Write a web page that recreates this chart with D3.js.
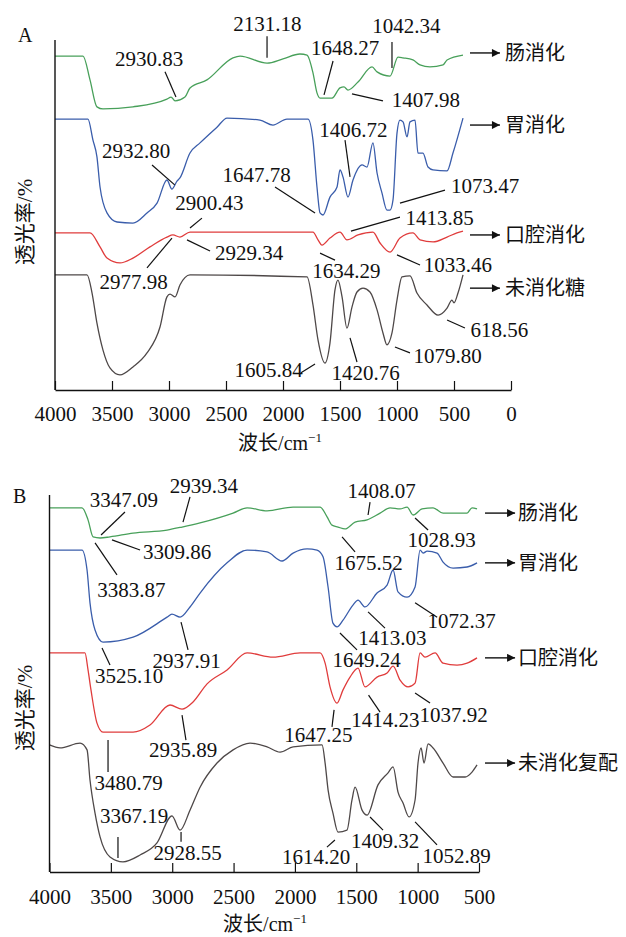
<!DOCTYPE html>
<meta charset="utf-8">
<script src="https://d3js.org/d3.v7.js"></script>
<style>
  body { margin: 0; background: #fff; }
</style>
<svg id="chart" width="626" height="937"></svg>
<script>

// ---- data: [wavenumber cm-1, transmittance (arbitrary, stacked)] ----
const gutA = [[4000,95.4],[3754,95.4],[3693,88.6],[3632,80.9],[3579,80.3],[3316,80.9],[3018,83.1],[2982,83.7],[2947,82.6],[2860,83.7],[2816,86.3],[2667,88.6],[2439,94.9],[2377,95.4],[2140,93.4],[2000,94.6],[1851,96.0],[1789,95.7],[1737,90.6],[1702,84.9],[1675,83.4],[1570,83.4],[1500,86.3],[1465,86.6],[1430,85.7],[1342,88.0],[1219,92.3],[1175,90.9],[1061,89.7],[991,95.1],[947,94.9],[860,94.3],[798,92.9],[711,92.3],[596,92.9],[561,94.3],[421,95.7]];
const stomachA = [[4000,77.4],[3711,77.4],[3667,71.4],[3632,66.6],[3605,58.0],[3544,50.6],[3456,48.0],[3316,47.7],[3193,50.6],[3105,53.4],[3018,60.0],[2975,57.4],[2930,59.7],[2904,60.6],[2816,67.7],[2728,70.6],[2579,75.1],[2491,77.7],[2202,77.1],[2088,75.7],[1965,77.4],[1781,77.4],[1737,71.4],[1702,58.0],[1675,50.6],[1649,50.0],[1588,55.1],[1526,58.0],[1500,62.9],[1474,60.9],[1430,55.1],[1386,60.0],[1307,64.3],[1263,63.7],[1211,70.6],[1175,62.0],[1132,56.3],[1088,51.4],[1061,51.4],[1035,54.3],[1000,73.4],[974,77.1],[947,76.6],[912,72.3],[886,76.6],[842,77.1],[816,67.7],[772,67.7],[728,63.7],[684,62.9],[561,62.6],[509,67.7],[421,77.7]];
const oralA = [[4000,44.9],[3693,44.9],[3605,40.9],[3544,37.7],[3430,36.3],[3316,37.7],[3167,40.9],[3018,43.7],[2965,44.3],[2904,43.7],[2816,45.1],[1737,45.1],[1693,42.9],[1658,41.4],[1588,43.4],[1500,45.1],[1439,42.9],[1342,44.3],[1211,45.1],[1149,42.0],[1061,39.4],[974,43.4],[860,44.9],[798,42.9],[684,42.3],[561,43.7],[474,44.9],[421,45.4]];
const rawA = [[4000,32.9],[3719,32.9],[3675,27.7],[3632,19.1],[3579,11.4],[3518,6.3],[3430,4.3],[3316,6.6],[3193,10.6],[3079,18.0],[3018,26.6],[2991,27.4],[2947,26.6],[2904,30.0],[2816,32.9],[1789,32.3],[1737,24.3],[1693,14.3],[1632,7.7],[1588,13.4],[1544,28.6],[1518,31.4],[1482,26.6],[1439,17.7],[1395,23.7],[1351,28.0],[1298,29.1],[1237,28.0],[1175,22.9],[1123,16.3],[1088,12.9],[1044,16.3],[1000,25.7],[956,32.3],[886,32.6],[825,27.7],[737,24.3],[640,21.4],[561,23.4],[518,25.7],[500,24.9],[465,27.7],[421,32.9]];

const gutB = [[4000,96.6],[3735,96.6],[3686,93.4],[3645,88.9],[3588,88.6],[3507,88.9],[3319,89.9],[3042,90.7],[2920,91.5],[2773,92.6],[2504,95.2],[2390,96.6],[2227,95.8],[2015,96.8],[1795,96.8],[1738,94.2],[1698,92.0],[1649,91.5],[1592,91.0],[1510,92.8],[1412,93.4],[1306,95.2],[1225,96.6],[1143,96.3],[1086,96.8],[1037,94.7],[964,96.3],[874,96.6],[793,95.2],[597,95.2],[557,96.6],[516,96.3]];
const stomachB = [[4000,85.4],[3735,85.4],[3694,80.1],[3670,71.4],[3629,64.2],[3564,61.0],[3319,62.3],[3042,67.6],[3002,68.4],[2936,67.6],[2855,70.3],[2773,74.0],[2553,82.0],[2390,85.4],[2227,84.9],[2105,82.5],[2015,84.6],[1901,85.7],[1820,85.4],[1771,83.6],[1730,75.6],[1690,66.0],[1657,65.0],[1608,66.8],[1527,70.8],[1486,72.1],[1429,70.3],[1331,74.0],[1249,76.1],[1200,80.1],[1160,74.3],[1086,72.9],[1021,75.6],[980,85.4],[955,84.6],[923,85.1],[842,84.6],[793,82.2],[711,80.6],[597,80.9],[516,82.0]];
const oralB = [[4000,58.1],[3711,58.1],[3686,53.6],[3662,48.3],[3613,39.5],[3564,37.1],[3319,37.1],[3181,39.0],[3018,44.3],[2920,43.2],[2830,45.1],[2716,49.9],[2553,53.6],[2390,58.1],[2178,57.0],[1958,58.1],[1795,58.1],[1754,55.4],[1714,49.1],[1657,44.8],[1608,48.3],[1551,51.7],[1486,54.1],[1429,49.1],[1331,51.7],[1249,52.8],[1200,54.6],[1143,50.9],[1078,49.1],[1021,50.1],[980,58.1],[940,57.0],[858,58.1],[793,55.4],[679,54.9],[597,55.4],[516,56.8]];
const rawB = [[4000,33.7],[3914,32.9],[3751,34.2],[3694,32.4],[3670,24.4],[3629,15.6],[3588,9.3],[3507,4.0],[3401,2.7],[3262,4.5],[3124,7.7],[3002,14.9],[2936,11.1],[2855,16.4],[2773,22.5],[2635,28.9],[2504,32.4],[2366,34.2],[2227,33.2],[2121,31.8],[2015,33.2],[1779,33.7],[1754,28.9],[1730,21.8],[1690,15.6],[1649,10.6],[1576,11.1],[1535,19.1],[1510,22.5],[1453,16.4],[1412,15.1],[1323,23.1],[1241,26.3],[1200,27.9],[1160,21.2],[1119,18.3],[1070,14.6],[1021,19.1],[997,28.9],[972,32.9],[948,28.9],[915,34.0],[874,32.9],[793,28.9],[711,25.2],[613,25.2],[557,26.5],[516,28.4]];

const namesA = ["肠消化", "胃消化", "口腔消化", "未消化糖"];
const namesB = ["肠消化", "胃消化", "口腔消化", "未消化复配"];
const labelTA = [96.3, 75.7, 44.3, 29.1];
const labelTB = [95.2, 82.0, 56.8, 28.9];

const ticksA = d3.range(0, 4001, 500);
const ticksB = d3.range(500, 4001, 500);

// peak labels: [text, text wn, text T, line wn1, T1, wn2, T2]
const annA = [
  ["2131.18",2136,102.6,2140,101.1,2140,94.9],
  ["2930.83",3175,92.6,3035,90.9,2939,83.7],
  ["1648.27",1456,95.7,1561,94.0,1640,84.3],
  ["1042.34",917,102.0,1044,99.4,1044,92.0],
  ["1407.98",746,80.9,1395,84.6,1123,82.6],
  ["2932.80",3289,66.3,3149,64.3,2950,58.6],
  ["1647.78",2232,59.4,2070,58.0,1719,50.6],
  ["1406.72",1382,72.3,1456,71.4,1412,60.9],
  ["1073.47",228,56.3,974,53.4,579,57.1],
  ["1413.85",627,47.1,1404,45.4,974,49.4],
  ["2900.43",2645,51.4,2816,46.3,2711,49.1],
  ["2929.34",2298,37.1,2842,42.9,2640,39.7],
  ["2977.98",3311,28.9,3193,34.9,2974,43.4],
  ["1634.29",1443,32.0,1675,39.1,1544,37.1],
  ["1033.46",465,33.7,1000,38.6,798,35.7],
  ["1605.84",2127,3.7,1842,4.9,1719,7.4],
  ["1420.76",1276,2.9,1412,14.9,1351,8.0],
  ["1079.80",557,7.7,1018,12.3,886,10.6],
  ["618.56",101,15.1,561,20.0,404,17.7]
];
const annB = [
  ["3347.09",3393,96.8,3385,95.5,3580,89.4],
  ["2939.34",2741,100.5,2855,99.5,2912,92.8],
  ["3309.86",2961,83.0,3491,88.1,3262,85.4],
  ["3383.87",3332,72.9,3629,87.3,3450,78.8],
  ["2937.91",2883,54.1,2928,66.3,2871,58.9],
  ["3525.10",3352,50.1,3572,59.4,3507,54.9],
  ["3480.79",3356,21.8,3523,35.0,3523,26.5],
  ["2935.89",2912,30.5,2920,41.6,2888,35.0],
  ["3367.19",3311,13.0,3442,9.3,3442,3.7],
  ["2928.55",2875,3.2,2928,10.6,2928,8.0],
  ["1647.25",1808,34.5,1681,43.0,1698,38.5],
  ["1414.23",1262,38.5,1400,46.9,1306,42.4],
  ["1037.92",707,39.8,1021,47.5,899,44.8],
  ["1675.52",1400,80.1,1616,88.9,1510,84.9],
  ["1408.07",1294,99.2,1388,98.1,1404,94.7],
  ["1028.93",805,86.2,1021,93.9,915,90.7],
  ["1413.03",1205,60.2,1404,69.0,1266,64.7],
  ["1072.37",642,64.7,1021,71.4,841,67.6],
  ["1649.24",1416,54.4,1633,63.4,1494,58.9],
  ["1614.20",1828,2.1,1739,6.6,1674,8.5],
  ["1409.32",1266,6.4,1388,14.6,1282,11.1],
  ["1052.89",683,2.4,1021,13.3,842,7.2]
];

const colors = ["#48a05a", "#3a5dab", "#e03c3c", "#4e4848"];
const serif = "'Liberation Serif', 'Times New Roman', serif";
const cjk = "'Noto Sans CJK SC', sans-serif";

const svg = d3.select("#chart");
svg.append("rect").attr("width", 626).attr("height", 937).attr("fill", "#fff");

svg.append("defs").append("marker")
    .attr("id", "arrow")
    .attr("viewBox", "0 0 10 10")
    .attr("refX", 10).attr("refY", 5)
    .attr("markerWidth", 10).attr("markerHeight", 8)
    .attr("markerUnits", "userSpaceOnUse")
    .attr("orient", "auto")
  .append("path")
    .attr("d", "M0,0 L10,5 L0,10 Z")
    .attr("fill", "#111");

function drawPanel(opt) {
  const x = d3.scaleLinear().domain(opt.xDomain).range(opt.xRange);
  const y = d3.scaleLinear().domain([0, 100]).range(opt.yRange);
  const g = svg.append("g");

  // curves
  const line = d3.line()
      .x(d => x(d[0]))
      .y(d => y(d[1]))
      .curve(d3.curveMonotoneX);

  g.selectAll(".spec")
    .data(opt.series)
    .join("path")
      .attr("d", line)
      .attr("fill", "none")
      .attr("stroke", (d, i) => colors[i])
      .attr("stroke-width", 1.3);

  // x axis, ticks pointing up
  const axis = g.append("g")
      .attr("transform", `translate(0,${opt.yRange[0]})`)
      .call(d3.axisBottom(x)
        .tickValues(opt.ticks)
        .tickSize(-9)
        .tickSizeOuter(0)
        .tickPadding(opt.pad)
        .tickFormat(d3.format("d")));
  axis.select(".domain").attr("stroke", "#111").attr("stroke-width", 1.4);
  axis.selectAll(".tick line").attr("stroke", "#111").attr("stroke-width", 1.2);
  axis.selectAll(".tick text")
      .attr("fill", "#111")
      .style("font-family", serif)
      .style("font-size", "21px");

  // y axis line
  g.append("line")
      .attr("x1", opt.xRange[0]).attr("x2", opt.xRange[0])
      .attr("y1", opt.yRange[0]).attr("y2", opt.yRange[1])
      .attr("stroke", "#111").attr("stroke-width", 1.4);

  // axis titles
  const xt = g.append("text")
      .attr("x", opt.xTitle[0]).attr("y", opt.xTitle[1])
      .attr("text-anchor", "middle")
      .attr("fill", "#111")
      .style("font-size", "20px");
  xt.append("tspan").style("font-family", cjk).text("波长");
  xt.append("tspan").style("font-family", serif).text("/cm");
  xt.append("tspan").style("font-family", serif).style("font-size", "13px")
      .attr("dy", "-0.6em").text("−1");

  const yt = g.append("text")
      .attr("transform", `translate(${opt.yTitle[0]},${opt.yTitle[1]}) rotate(-90)`)
      .attr("text-anchor", "middle")
      .attr("fill", "#111")
      .style("font-size", "21px");
  yt.append("tspan").style("font-family", cjk).text("透光率");
  yt.append("tspan").style("font-family", serif).text("/%");

  // panel letter
  g.append("text")
      .attr("x", opt.letterPos[0]).attr("y", opt.letterPos[1])
      .attr("fill", "#111")
      .style("font-family", serif).style("font-size", "20px")
      .text(opt.letter);

  // peak annotations
  g.selectAll(".lead")
    .data(opt.ann)
    .join("line")
      .attr("x1", d => x(d[3])).attr("y1", d => y(d[4]))
      .attr("x2", d => x(d[5])).attr("y2", d => y(d[6]))
      .attr("stroke", "#111").attr("stroke-width", 1.2);

  g.selectAll(".peak")
    .data(opt.ann)
    .join("text")
      .attr("x", d => x(d[1])).attr("y", d => y(d[2]))
      .attr("text-anchor", "middle")
      .attr("fill", "#111")
      .style("font-family", serif).style("font-size", "21px")
      .text(d => d[0]);

  // series labels with arrows
  g.selectAll(".arr")
    .data(opt.labelT)
    .join("line")
      .attr("x1", x(opt.arrow[0])).attr("x2", x(opt.arrow[1]))
      .attr("y1", d => y(d)).attr("y2", d => y(d))
      .attr("stroke", "#111").attr("stroke-width", 1.4)
      .attr("marker-end", "url(#arrow)");

  g.selectAll(".name")
    .data(opt.names)
    .join("text")
      .attr("x", x(opt.arrow[2]))
      .attr("y", (d, i) => y(opt.labelT[i]))
      .attr("dy", "0.36em")
      .attr("fill", "#111")
      .style("font-family", cjk).style("font-size", "20px")
      .text(d => d);
}

drawPanel({
  series: [gutA, stomachA, oralA, rawA],
  names: namesA, labelT: labelTA, ann: annA, ticks: ticksA,
  xDomain: [4000, 0], xRange: [55, 511], yRange: [390, 40],
  pad: 16, xTitle: [280, 450], yTitle: [32, 222],
  letter: "A", letterPos: [18, 42],
  arrow: [360, 97, 53]
});

drawPanel({
  series: [gutB, stomachB, oralB, rawB],
  names: namesB, labelT: labelTB, ann: annB, ticks: ticksB,
  xDomain: [4000, 500], xRange: [49.5, 479], yRange: [872, 495],
  pad: 17, xTitle: [265, 931], yTitle: [32, 708],
  letter: "B", letterPos: [13, 503],
  arrow: [451, 206, 182]
});

</script>
